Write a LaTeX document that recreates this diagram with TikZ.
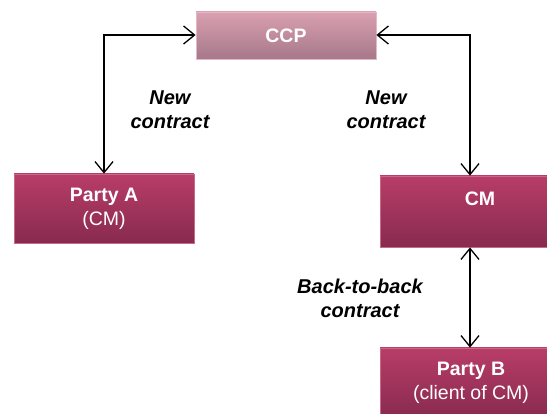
\documentclass[tikz,border=0pt]{standalone}
\usepackage{fontspec}
\setmainfont{Liberation Sans}
\usetikzlibrary{arrows.meta,positioning}
\definecolor{ccptop}{HTML}{D9A0B1}
\definecolor{ccpbot}{HTML}{A6788A}
\definecolor{ccpedge}{HTML}{E3B8C4}
\definecolor{boxtop}{HTML}{B83D68}
\definecolor{boxbot}{HTML}{882A4F}
\definecolor{boxedge}{HTML}{C76A8A}
\tikzset{
  ccpbox/.style={rectangle, draw=ccpedge, line width=0.8pt, top color=ccptop, bottom color=ccpbot, text=white, font=\bfseries\fontsize{19.5}{23}\selectfont, inner sep=0pt},
  partybox/.style={rectangle, draw=boxedge, line width=0.8pt, top color=boxtop, bottom color=boxbot, text=white, font=\fontsize{19.5}{24}\selectfont, align=center, inner sep=0pt},
  lbl/.style={font=\bfseries\itshape\fontsize{20}{24}\selectfont, align=center, text=black},
  conn/.style={line width=1.3pt, {Straight Barb[length=11pt,width=18pt,line width=1.3pt]}-{Straight Barb[length=11pt,width=18pt,line width=1.3pt]}}
}
\begin{document}
\begin{tikzpicture}[x=1pt,y=-1pt]
\useasboundingbox (0,0) rectangle (547,414);
\clip (0,0) rectangle (547,414);
\node[ccpbox, minimum width=180pt, minimum height=47pt] (ccp) at (286,35.5) {CCP};
\node[partybox, minimum width=180pt, minimum height=69pt] (pa) at (104,208.5) {\textbf{Party A}\\(CM)};
\node[partybox, minimum width=200pt, minimum height=71pt] (cm) at (480,211.5) {\textbf{CM}\\[-2pt]\phantom{(CM)}};
\node[partybox, minimum width=182pt, minimum height=70pt] (pb) at (471,383) {\textbf{Party B}\\(client of CM)};
\coordinate (lc) at (104,35);
\coordinate (rc) at (470,35);
\draw[conn] (ccp.west |- lc) -- (lc) -- (pa.north -| lc);
\draw[conn] (ccp.east |- rc) -- (rc) -- (cm.north -| rc);
\draw[conn] (cm.south -| rc) -- (pb.north -| rc);
\node[lbl] (l1) at (170,110) {New\\contract};
\node[lbl] (l2) at (386,110) {New\\contract};
\node[lbl] (l3) at (360,298.5) {Back-to-back\\contract};
\end{tikzpicture}
\end{document}
